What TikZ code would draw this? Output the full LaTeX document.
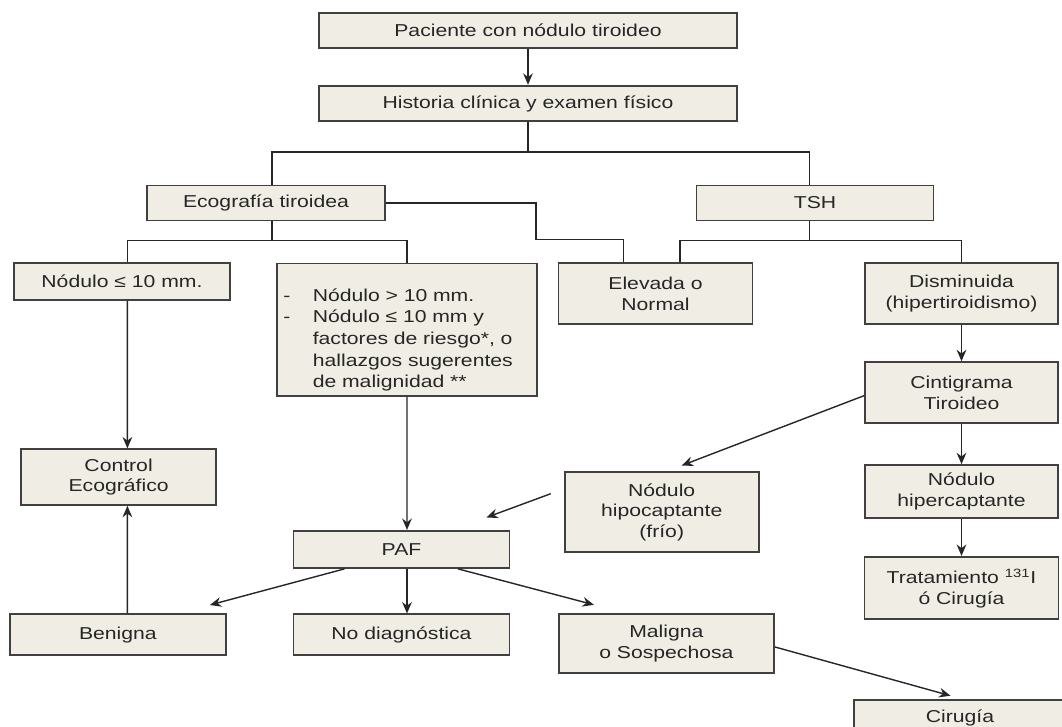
\documentclass[tikz,border=0pt]{standalone}
\usepackage{fontspec}
\setmainfont{Liberation Sans}[FakeStretch=1.23]
\usetikzlibrary{positioning, arrows.meta}
\definecolor{boxfill}{HTML}{F0EEE4}
\definecolor{boxline}{HTML}{404040}
\tikzset{
>={Stealth[length=6.5pt,width=5.5pt]}, % arrow heads of the links
node distance=1.98cm, % distance between the boxes of the right column
box/.style={draw=boxline, line width=1.1pt, fill=boxfill, inner sep=0pt, align=center, text=black!85, font=\fontsize{9.8pt}{11.8pt}\selectfont}, % every box of the chart
link/.style={line width=0.8pt, draw=black!85}, % lines between the boxes
}
\begin{document}
\begin{tikzpicture}[x=0.02cm, y=-0.02cm]
                \clip (0,0) rectangle (1062,727);
                \node[box, minimum width=8.38cm, minimum height=0.71cm] (pac) at (528,30.5) {Paciente con nódulo tiroideo};
                \node[box, minimum width=8.38cm, minimum height=0.71cm, below of=pac, node distance=1.46cm] (hist) {Historia clínica y examen físico};
                \node[box, minimum width=4.75cm, minimum height=0.70cm] (eco) at (266,203) {Ecografía tiroidea};
                \node[box, minimum width=4.74cm, minimum height=0.70cm] (tsh) at (815,203) {TSH};
                \node[box, minimum width=4.31cm, minimum height=0.73cm] (nod) at (122,281.7) {Nódulo ≤ 10 mm.};
                \node[box, text width=4.95cm, inner xsep=0.12cm, minimum height=2.65cm, align=left] (lst) at (407,329.7) {%
                    \def\arraystretch{1.04}%
                    \begin{tabular}{@{}l@{\hspace{0.45cm}}l@{}}
                    - & \rule{0pt}{0.72cm}Nódulo > 10 mm.\\
                    - & Nódulo ≤ 10 mm y\\
                      & factores de riesgo*, o\\
                      & hallazgos sugerentes\\
                      & de malignidad **
                    \end{tabular}};
                \node[box, minimum width=3.88cm, minimum height=1.21cm] (elev) at (655.5,293.7) {Elevada o\\Normal};
                \node[box, minimum width=3.86cm, minimum height=1.21cm] (dism) at (961.5,293.7) {Disminuida\\(hipertiroidismo)};
                \node[box, minimum width=3.86cm, minimum height=1.22cm, below of=dism] (cint) {Cintigrama\\Tiroideo};
                \node[box, minimum width=3.86cm, minimum height=1.06cm, below of=cint] (hiper) {Nódulo\\hipercaptante};
                \node[box, minimum width=3.88cm, minimum height=1.25cm, below of=hiper, node distance=1.93cm] (trat) {Tratamiento \textsuperscript{131}I\\ó Cirugía};
                \node[box, minimum width=3.88cm, minimum height=1.61cm] (hipo) at (661.7,512.2) {Nódulo\\hipocaptante\\(frío)};
                \node[box, minimum width=3.89cm, minimum height=1.11cm] (ctrl) at (118.6,477.1) {Control\\Ecográfico};
                \node[box, minimum width=4.32cm, minimum height=0.74cm] (paf) at (401.5,549.4) {PAF};
                \node[box, minimum width=4.33cm, minimum height=0.81cm] (ben) at (117.9,634.7) {Benigna};
                \node[box, minimum width=4.32cm, minimum height=0.81cm] (nodx) at (401.5,634.7) {No diagnóstica};
                \node[box, minimum width=4.31cm, minimum height=1.17cm] (mal) at (666.4,643.5) {Maligna\\o Sospechosa};
                \node[box, minimum width=4.24cm, minimum height=0.72cm] (cir) at (960,718.2) {Cirugía};
                % tree lines
                \draw[link] (hist.south) -- ++(0,29.8) coordinate (hb) -| ([xshift=0.116cm]eco.north)
                    (hb) -| ([xshift=-0.11cm]tsh.north);
                \draw[link] ([xshift=0.116cm]eco.south) -- ++(0,18.9) coordinate (eb) -| ([xshift=0.108cm]nod.north)
                    (eb) -| (lst.north);
                \draw[link] (eco.east) -- ++(150.5,0) -- ++(0,36.3) -| ([xshift=-0.644cm]elev.north);
                \draw[link] ([xshift=-0.11cm]tsh.south) -- ++(0,18.9) coordinate (tb) -| ([xshift=0.49cm]elev.north)
                    (tb) -| (dism.north);
                % arrows
                \draw[link, ->] (pac) -- (hist);
                \draw[link, ->] ([xshift=0.108cm]nod.south) -- ([xshift=0.176cm]ctrl.north);
                \draw[link, ->] ([xshift=0.19cm]ben.north) -- ([xshift=0.176cm]ctrl.south);
                \draw[link, ->] (lst.south) -- ([xshift=0.11cm]paf.north);
                \draw[link, ->] ([xshift=0.11cm]paf.south) -- ([xshift=0.11cm]nodx.north);
                \draw[link, ->] ([xshift=-1.14cm]paf.south) -- ([xshift=1.84cm,yshift=0.17cm]ben.north);
                \draw[link, ->] ([xshift=1.13cm]paf.south) -- ([xshift=-1.45cm,yshift=0.17cm]mal.north);
                \draw[link, ->] ([yshift=-0.07cm]mal.east) -- ([xshift=-0.19cm,yshift=0.07cm]cir.north);
                \draw[link, ->] (dism) -- (cint);
                \draw[link, ->] (cint) -- (hiper);
                \draw[link, ->] (hiper) -- (trat);
                \draw[link, ->] ([yshift=-0.06cm]cint.west) -- ([xshift=0.4cm,yshift=0.11cm]hipo.north);
                \draw[link, ->] ([xshift=-0.26cm,yshift=0.37cm]hipo.west) -- ([xshift=-0.48cm,yshift=0.25cm]paf.north east);
\end{tikzpicture}
\end{document}
